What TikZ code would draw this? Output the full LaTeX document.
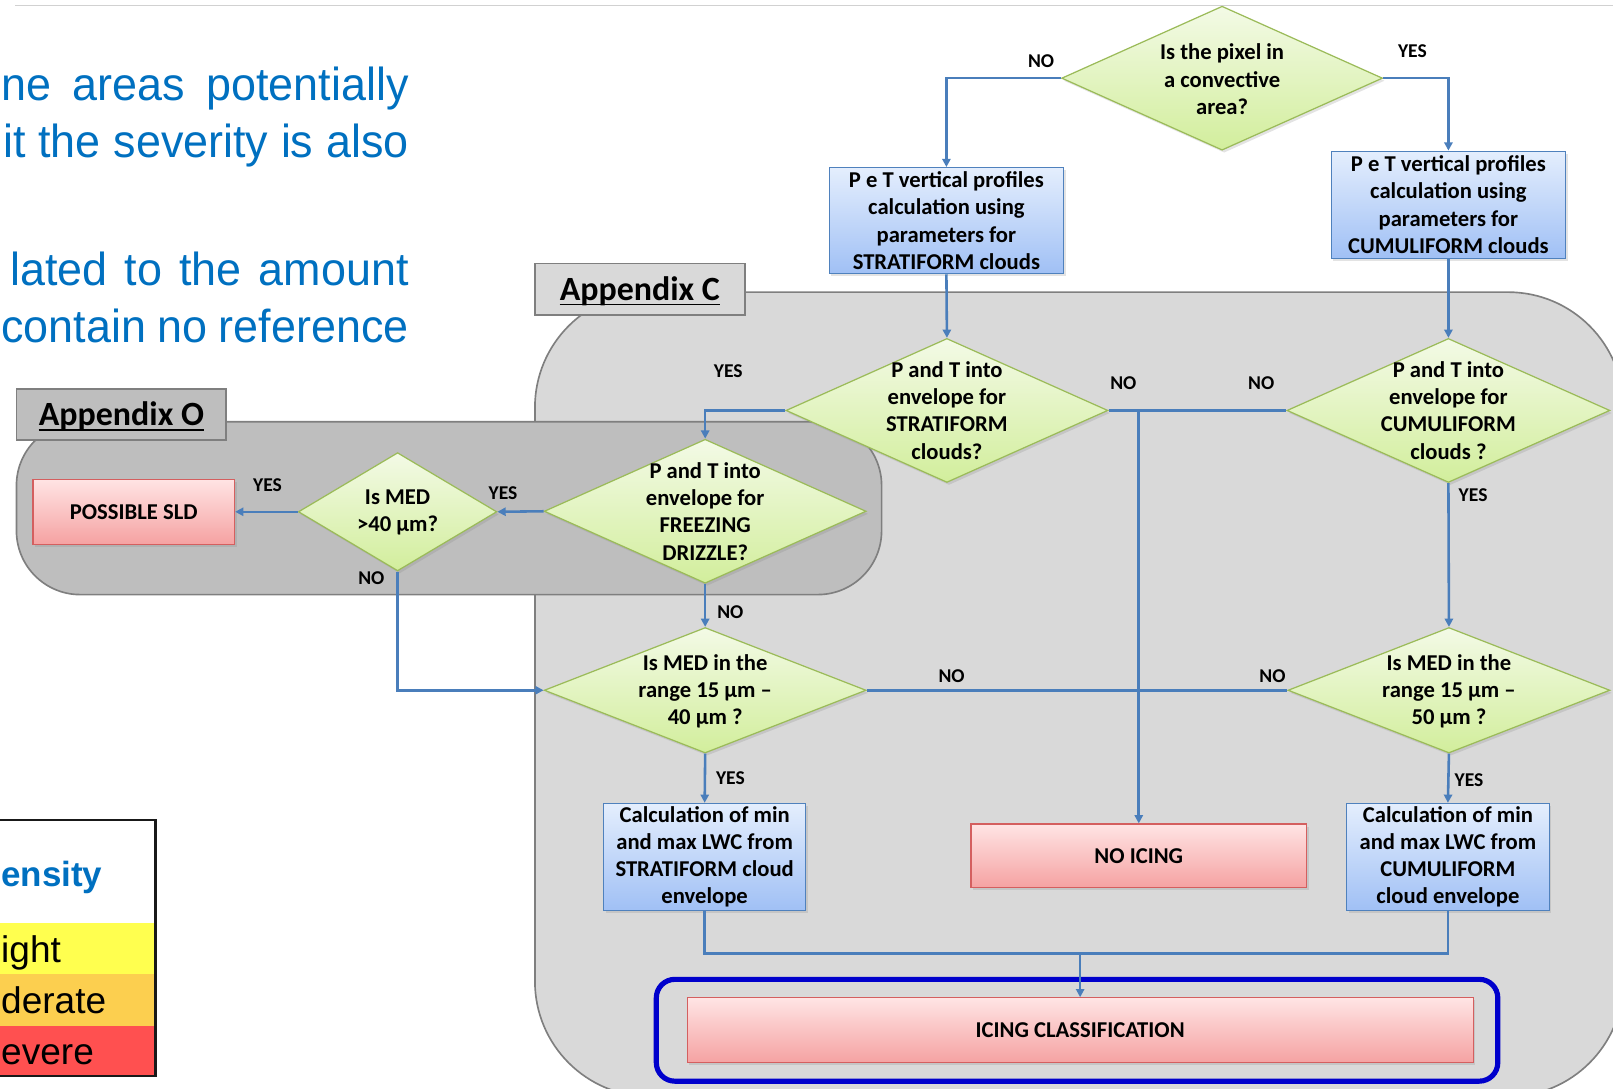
\documentclass[tikz,border=0pt]{standalone}
\usepackage{fontspec}
\setmainfont{Carlito}
\newfontfamily\condfont[FakeStretch=0.97]{Liberation Sans}
\newfontfamily\legfont{Liberation Sans}
\usetikzlibrary{shapes.geometric,arrows.meta,shadows}
\definecolor{lineblue}{HTML}{4A7EBB}
\definecolor{dgreenA}{HTML}{F3FAE6}
\definecolor{dgreenZ}{HTML}{D2EE9C}
\definecolor{dgreenB}{HTML}{9BBB59}
\definecolor{bblueA}{HTML}{E4EEFD}
\definecolor{bblueZ}{HTML}{A0C0F5}
\definecolor{bblueB}{HTML}{4F81BD}
\definecolor{rredA}{HTML}{FFE4E4}
\definecolor{rredZ}{HTML}{F5A2A2}
\definecolor{rredB}{HTML}{D45F5F}
\definecolor{cgray}{HTML}{D9D9D9}
\definecolor{ogray}{HTML}{BEBEBE}
\definecolor{edgegray}{HTML}{7F7F7F}
\definecolor{txtblue}{HTML}{0070C0}
\definecolor{frameblue}{HTML}{0000CC}
\definecolor{legyellow}{HTML}{FFFF4F}
\definecolor{legorange}{HTML}{FCCF4F}
\definecolor{legred}{HTML}{FF5050}
\tikzset{
  shad/.style={drop shadow={opacity=0.22, shadow xshift=2pt, shadow yshift=-2.5pt}},
  dia/.style={diamond, draw=dgreenB, line width=1.2pt, top color=dgreenA, bottom color=dgreenZ, inner sep=0pt, shad},
  bbox/.style={rectangle, draw=bblueB, line width=1.2pt, top color=bblueA, bottom color=bblueZ, inner sep=0pt, shad, align=center, font=\bfseries\fontsize{22}{26.5}\selectfont},
  rbox/.style={rectangle, draw=rredB, line width=1.2pt, top color=rredA, bottom color=rredZ, inner sep=0pt, shad, align=center, font=\bfseries\fontsize{22}{26.5}\selectfont},
  ntext/.style={align=center, font=\bfseries\fontsize{22}{26.5}\selectfont, inner sep=0pt},
  lab/.style={font=\bfseries\fontsize{19}{22}\selectfont, inner sep=0pt},
  conn/.style={draw=lineblue, line width=2.5pt, -{Triangle[length=8pt,width=8pt]}},
  link/.style={draw=lineblue, line width=2.5pt},
  tabbox/.style={rectangle, draw=edgegray, line width=1.6pt, inner sep=0pt, minimum width=204pt, minimum height=50pt},
  tabtext/.style={font=\bfseries\fontsize{33}{38}\selectfont, inner sep=0pt},
  lefttext/.style={font=\condfont\fontsize{45}{52}\selectfont, text=txtblue, inner sep=0pt, anchor=base west},
  legtext/.style={font=\legfont\fontsize{36}{42}\selectfont, inner sep=0pt, anchor=base west},
}
\begin{document}
\begin{tikzpicture}[x=1pt,y=-1pt]
\useasboundingbox (0,0) rectangle (1568,1058);
\clip (0,0) rectangle (1568,1058);
% top rule
\draw[black!18, line width=1pt] (15,5) -- (1568,5);
% left text (cut by the page edge in the original)
\node[lefttext] (t1) at (1,98) {\makebox[396pt][s]{ne areas potentially}};
\node[lefttext] (t2) at (3,153) {\makebox[394pt][s]{it the severity is also}};
\node[lefttext] (t3) at (10,278) {\makebox[387pt][s]{lated to the amount}};
\node[lefttext] (t4) at (1,333) {\makebox[396pt][s]{contain no reference}};
% legend
\fill[white] (-5,797) rectangle (151,897);
\fill[legyellow] (-5,897) rectangle (151,947);
\fill[legorange] (-5,947) rectangle (151,997);
\fill[legred] (-5,997) rectangle (151,1046);
\draw[black!90, line width=2.5pt] (-5,797) rectangle (151,1046);
\node[legtext, text=txtblue, font=\legfont\bfseries\fontsize{34}{40}\selectfont] (lg0) at (1,862) {ensity};
\node[legtext] (lg1) at (1,936) {ight};
\node[legtext] (lg2) at (1,985) {derate};
\node[legtext] (lg3) at (1,1035) {evere};
% Appendix C region
\draw[fill=cgray, draw=edgegray, line width=1.6pt, rounded corners=112pt] (520,284) rectangle (1578,1066);
\node[tabbox, fill=cgray] (tabC) at (622,281) {};
\node[tabtext] (tabCt) at (622,283) {Appendix C};
\draw[line width=1.8pt] ([yshift=-4pt]tabCt.base west) -- ([yshift=-4pt]tabCt.base east);
% Appendix O region
\draw[fill=ogray, draw=edgegray, line width=1.6pt, rounded corners=62pt] (16,410) rectangle (857,578);
\node[tabbox, fill=ogray] (tabO) at (118,403) {};
\node[tabtext] (tabOt) at (118,405) {Appendix O};
\draw[line width=1.8pt] ([yshift=-4pt]tabOt.base west) -- ([yshift=-4pt]tabOt.base east);
% nodes
\node[dia, minimum width=312pt, minimum height=140pt] (d0) at (1188,76) {};
\node[ntext] (d0t) at (1188,77) {Is the pixel in\\a convective\\area?};
\node[bbox, minimum width=228pt, minimum height=103pt] (b1) at (920,214.5) {P e T vertical profiles\\calculation using\\parameters for\\STRATIFORM clouds};
\node[bbox, minimum width=228pt, minimum height=104pt] (b2) at (1408,199) {P e T vertical profiles\\calculation using\\parameters for\\CUMULIFORM clouds};
\node[dia, minimum width=313pt, minimum height=140pt] (d1) at (920.5,399) {};
\node[ntext] (d1t) at (920.5,399) {P and T into\\envelope for\\STRATIFORM\\clouds?};
\node[dia, minimum width=314pt, minimum height=140pt] (d2) at (1408,399) {};
\node[ntext] (d2t) at (1408,399) {P and T into\\envelope for\\CUMULIFORM\\clouds ?};
\node[dia, minimum width=313pt, minimum height=140pt] (d3) at (685.5,497) {};
\node[ntext] (d3t) at (685.5,497) {P and T into\\envelope for\\FREEZING\\DRIZZLE?};
\node[dia, minimum width=193pt, minimum height=115pt] (d4) at (386.5,497.5) {};
\node[ntext] (d4t) at (386.5,498) {Is MED\\>40 µm?};
\node[rbox, minimum width=196pt, minimum height=63pt] (sld) at (130,497.5) {POSSIBLE SLD};
\node[dia, minimum width=313pt, minimum height=122pt] (d5) at (685.5,671) {};
\node[ntext] (d5t) at (685.5,672) {Is MED in the\\range 15 µm –\\40 µm ?};
\node[dia, minimum width=313pt, minimum height=122pt] (d6) at (1408.5,671) {};
\node[ntext] (d6t) at (1408.5,672) {Is MED in the\\range 15 µm –\\50 µm ?};
\node[bbox, minimum width=196pt, minimum height=104pt] (c1) at (685,833) {Calculation of min\\and max LWC from\\STRATIFORM cloud\\envelope};
\node[rbox, minimum width=326pt, minimum height=62pt] (noicing) at (1107,832) {NO ICING};
\node[bbox, minimum width=197pt, minimum height=104pt] (c2) at (1407.5,833) {Calculation of min\\and max LWC from\\CUMULIFORM\\cloud envelope};
\node[rbox, minimum width=764pt, minimum height=63pt] (icing) at (1050,1001.5) {ICING CLASSIFICATION};
\draw[frameblue, line width=5pt, rounded corners=18pt] (638,952) rectangle (1456,1051);
% connectors
\draw[conn] (d0.west) -| (b1.north);
\draw[conn] (d0.east) -| (b2.north);
\draw[conn] (b1.south) -- (d1.north);
\draw[conn] (b2.south) -- (d2.north);
\draw[conn] (d1.west) -| (d3.north);
\draw[link] (d1.east) -- (d2.west);
\draw[conn] (d1.east) -| (noicing.north);
\draw[conn] (d2.south) -- (d6.north);
\draw[conn] (d3.west) -- (d4.east);
\draw[conn] (d4.west) -- (sld.east);
\draw[conn] (d4.south) |- (d5.west);
\draw[conn] (d3.south) -- (d5.north);
\draw[link] (d5.east) -- (d6.west);
\draw[conn] (d5.south) -- (c1.north);
\draw[conn] (d6.south) -- (c2.north);
\coordinate (lvl) at (0,927);
\draw[link] (c1.south) -- (c1.south |- lvl) -- (c2.south |- lvl) -- (c2.south);
\draw[conn] (icing.north |- lvl) -- (icing.north);
% labels
\node[lab] (l1) at (1012,59) {NO};
\node[lab] (l2) at (1373,50) {YES};
\node[lab] (l3) at (708,361) {YES};
\node[lab] (l4) at (1092,372) {NO};
\node[lab] (l5) at (1226,372) {NO};
\node[lab] (l6) at (1432,481) {YES};
\node[lab] (l7) at (489,479) {YES};
\node[lab] (l8) at (260,472) {YES};
\node[lab] (l9) at (361,562) {NO};
\node[lab] (l10) at (710,595) {NO};
\node[lab] (l11) at (925,657) {NO};
\node[lab] (l12) at (1237,657) {NO};
\node[lab] (l13) at (710,756) {YES};
\node[lab] (l14) at (1428,758) {YES};
\end{tikzpicture}
\end{document}
